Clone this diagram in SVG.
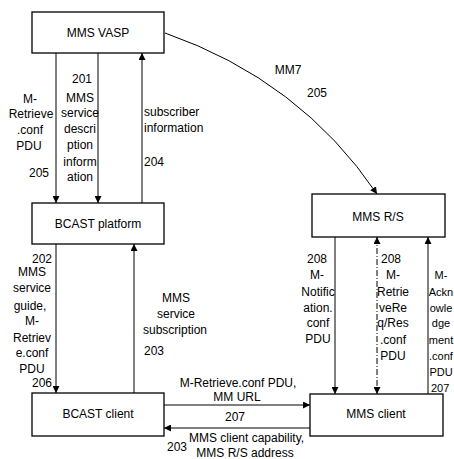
<svg xmlns="http://www.w3.org/2000/svg" width="454" height="459" viewBox="0 0 454 459">
<defs>
<style>
text{font-family:"Liberation Sans",Arial,sans-serif;font-size:12px;fill:#000}
.c{text-anchor:middle}
.s{font-size:11px}
.box{fill:#fff;stroke:#000;stroke-width:1.3}
.ln{fill:none;stroke:#000;stroke-width:1}
.dash{stroke-dasharray:6,2,1,2}
</style>
<marker id="ah" viewBox="0 0 10 10" refX="10" refY="5" markerWidth="7" markerHeight="7" orient="auto-start-reverse" markerUnits="userSpaceOnUse">
<path d="M0,0 L10,5 L0,10 z" fill="#000"/>
</marker>
</defs>
<rect width="454" height="459" fill="#fff"/>
<g id="connectors">
<path class="ln" d="M56,53 V203" marker-end="url(#ah)"/>
<path class="ln" d="M98,53 V203" marker-end="url(#ah)"/>
<path class="ln" d="M142,203 V53" marker-end="url(#ah)"/>
<path class="ln" d="M56,244 V393" marker-end="url(#ah)"/>
<path class="ln" d="M134,393 V244" marker-end="url(#ah)"/>
<path class="ln" d="M335,237 V394" marker-end="url(#ah)"/>
<path class="ln dash" d="M377,237 V394" marker-start="url(#ah)" marker-end="url(#ah)"/>
<path class="ln" d="M428,394 V237" marker-end="url(#ah)"/>
<path class="ln" d="M164,405 H310" marker-end="url(#ah)"/>
<path class="ln" d="M310,428 H164" marker-end="url(#ah)"/>
<path class="ln" d="M165,33 Q300,80 377,194" marker-end="url(#ah)"/>
</g>
<g id="labels">
<text class="c" x="30" y="103">M-</text>
<text class="c" x="31" y="118">Retrieve</text>
<text class="c" x="30" y="134">.conf</text>
<text class="c" x="29" y="150">PDU</text>
<text class="c" x="39" y="177">205</text>
<text class="c" x="82" y="83">201</text>
<text class="c" x="80" y="102">MMS</text>
<text class="c" x="80" y="117">service</text>
<text class="c" x="80" y="133">descri</text>
<text class="c" x="80" y="149">ption</text>
<text class="c" x="80" y="166">inform</text>
<text class="c" x="80" y="181">ation</text>
<text x="144" y="116">subscriber</text>
<text x="144" y="132">information</text>
<text x="144" y="166">204</text>
<text class="c" x="288" y="74">MM7</text>
<text class="c" x="317" y="97">205</text>
<text class="c" x="42" y="263">202</text>
<text class="c" x="32" y="276">MMS</text>
<text class="c" x="32" y="292">service</text>
<text class="c" x="30" y="310">guide,</text>
<text class="c" x="32" y="325">M-</text>
<text class="c" x="32" y="342">Retriev</text>
<text class="c" x="32" y="357">e.conf</text>
<text class="c" x="32" y="373">PDU</text>
<text class="c" x="42" y="387">206</text>
<text class="c" x="176" y="302">MMS</text>
<text class="c" x="176" y="318">service</text>
<text class="c" x="175" y="334">subscription</text>
<text x="144" y="355">203</text>
<text class="c" x="317" y="263">208</text>
<text class="c" x="317" y="279">M-</text>
<text class="c" x="318" y="296">Notific</text>
<text class="c" x="318" y="312">ation.</text>
<text class="c" x="318" y="327">conf</text>
<text class="c" x="318" y="343">PDU</text>
<text x="381" y="263">208</text>
<text class="c" x="393" y="279">M-</text>
<text class="c" x="393" y="296">Retrie</text>
<text class="c" x="393" y="312">veRe</text>
<text class="c" x="393" y="327">q/Res</text>
<text class="c" x="393" y="344">.conf</text>
<text class="c" x="393" y="360">PDU</text>
<text class="c s" x="441" y="279">M-</text>
<text class="c s" x="441" y="296">Ackn</text>
<text class="c s" x="441" y="312">owle</text>
<text class="c s" x="441" y="327">dge</text>
<text class="c s" x="441" y="344">ment</text>
<text class="c s" x="441" y="360">.conf</text>
<text class="c s" x="441" y="376">PDU</text>
<text class="s" x="431" y="392">207</text>
<text class="c" x="238" y="387">M-Retrieve.conf PDU,</text>
<text class="c" x="237" y="401">MM URL</text>
<text class="c" x="235" y="421">207</text>
<text x="167" y="451">203</text>
<text x="189" y="442">MMS client capability,</text>
<text class="c" x="245" y="457">MMS R/S address</text>
</g>
<g id="mms-vasp"><rect class="box" x="32" y="12" width="132" height="41"/><text class="c" x="98" y="37">MMS VASP</text></g>
<g id="bcast-platform"><rect class="box" x="32" y="203" width="132" height="41"/><text class="c" x="98" y="228">BCAST platform</text></g>
<g id="mms-rs"><rect class="box" x="312" y="194" width="133" height="43"/><text class="c" x="378" y="221">MMS R/S</text></g>
<g id="bcast-client"><rect class="box" x="32" y="393" width="132" height="43"/><text class="c" x="98" y="418">BCAST client</text></g>
<g id="mms-client"><rect class="box" x="310" y="394" width="133" height="42"/><text class="c" x="376" y="418">MMS client</text></g>
</svg>
